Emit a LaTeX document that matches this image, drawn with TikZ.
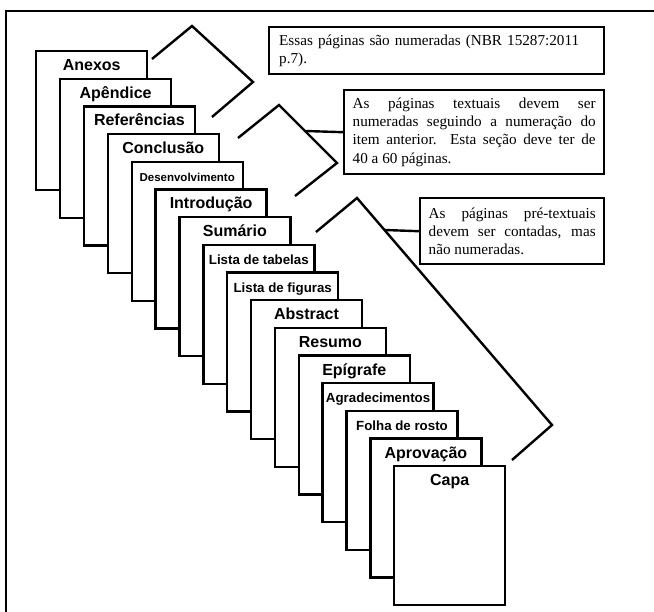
\documentclass[tikz,border=0pt]{standalone}
\usepackage{fontspec}
\setmainfont{Liberation Serif}
\setsansfont{Liberation Sans}
\usepackage{tikz}

\begin{document}
\begin{tikzpicture}[x=1pt, y=-1pt, line width=2.4pt,
    page/.style={draw, fill=white, anchor=north west, minimum width=111pt,
      inner xsep=0pt, inner ysep=0pt, text height=19.5pt, text depth=119.5pt,
      font=\sffamily\bfseries\fontsize{16}{18}\selectfont},
    smallpage/.style={page, font=\sffamily\bfseries\fontsize{13.3}{15}\selectfont},
    tinypage/.style={page, font=\sffamily\bfseries\fontsize{11.5}{13}\selectfont},
    note/.style={draw, fill=white, anchor=north west, align=justify,
      inner xsep=8.5pt, font=\fontsize{15.2}{18.3}\selectfont}]
  \useasboundingbox (0,0) rectangle (654,612);
  \draw (6,612) -- (6,11) -- (654,11);

  % pages, from the back to the front
  \node[page]      (anexos)     at (35,50)      {Anexos};
  \node[page]      (apendice)   at (58.9,77.7)  {Apêndice};
  \node[page]      (referencias) at (82.7,105.3) {Referências};
  \node[page]      (conclusao)  at (106.6,133)  {Conclusão};
  \node[tinypage]  (desenv)     at (130.5,160.7) {Desenvolvimento};
  \node[page]      (introducao) at (154.4,188.3) {Introdução};
  \node[page]      (sumario)    at (178.2,216)  {Sumário};
  \node[smallpage] (tabelas)    at (202.1,243.7) {Lista de tabelas};
  \node[smallpage] (figuras)    at (226,271.4)  {Lista de figuras};
  \node[page]      (abstract)   at (249.8,299)  {Abstract};
  \node[page]      (resumo)     at (273.7,326.7) {Resumo};
  \node[page]      (epigrafe)   at (297.6,354.4) {Epígrafe};
  \node[smallpage] (agradec)    at (321.4,382)  {Agradecimentos};
  \node[smallpage] (rosto)      at (345.3,409.7) {Folha de rosto};
  \node[page]      (aprovacao)  at (369.2,437.4) {Aprovação};
  \node[page]      (capa)       at (393,465)    {Capa};

  % notes
  \node[note, align=left, text width=315pt, inner xsep=10pt, minimum height=47pt]
    (nota1) at (268,26) {Essas páginas são numeradas (NBR 15287:2011\\ p.7).};
  \node[note, text width=243pt, minimum height=84pt] (nota2) at (343,89)
    {As páginas textuais devem ser\linebreak numeradas seguindo a numeração do\linebreak
     item anterior. Esta seção deve ter de\linebreak 40 a 60 páginas.};
  \node[note, text width=167pt, minimum height=66pt] (nota3) at (419,197)
    {As páginas pré-textuais\linebreak devem ser contadas, mas\linebreak não numeradas.};

  % brackets
  \draw (152,59) -- (192,26) -- (253,82) -- (212,117);
  \draw (238,138) -- (279,105) -- (337,163) -- (295,196);
  \draw (316,232) -- (357,198) -- (552,425) -- (512,460);
  \coordinate (c2) at (305.5,131);
  \coordinate (c3) at (384.5,230);
  \draw (c2) -- (nota2.west);
  \draw (c3) -- (nota3.west);
\end{tikzpicture}
\end{document}
